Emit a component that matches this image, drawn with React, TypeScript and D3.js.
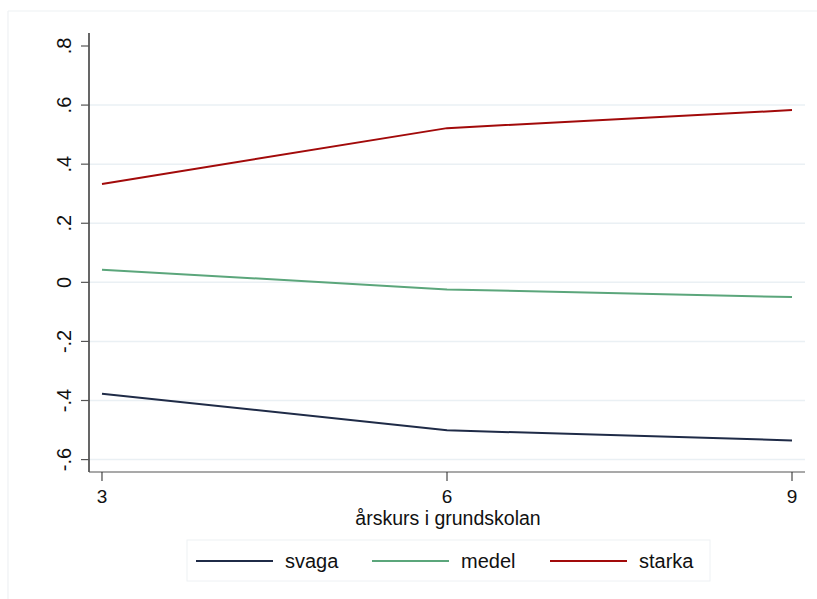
import React from 'react';
import * as d3 from 'd3';

const grades = [3, 6, 9];
const svaga = [-0.377, -0.501, -0.535];
const medel = [0.043, -0.024, -0.05];
const starka = [0.333, 0.522, 0.583];

const yTicks = [0.8, 0.6, 0.4, 0.2, 0, -0.2, -0.4, -0.6];
const yTickLabels = ['.8', '.6', '.4', '.2', '0', '-.2', '-.4', '-.6'];
const gridTicks = [0.6, 0.4, 0.2, 0, -0.2, -0.4, -0.6];

const SERIES = [
  { name: 'svaga', values: svaga, color: '#1f2b47' },
  { name: 'medel', values: medel, color: '#5ba67b' },
  { name: 'starka', values: starka, color: '#a20a0a' },
];

const FONT = "'Liberation Sans', Arial, Helvetica, sans-serif";

const W = 817;
const H = 599;

const App: React.FC = () => {
  // plot region
  const left = 89;
  const right = 805;
  const top = 33;
  const bottom = 472;

  const x = d3.scaleLinear().domain([2.887, 9.113]).range([left, right]);
  const y = d3.scaleLinear().domain([-0.642, 0.844]).range([bottom, top]);

  const line = d3
    .line<number>()
    .x((_, i) => x(grades[i]))
    .y((d) => y(d));

  const legendItems = [
    { x0: 196, tx: 285 },
    { x0: 372, tx: 461 },
    { x0: 550, tx: 639 },
  ];

  return (
    <svg
      width={W}
      height={H}
      style={{ position: 'absolute', left: 0, top: 0, background: '#fff' }}
      fontFamily={FONT}
    >
      {/* outer graph frame */}
      <line x1={8} x2={W} y1={11} y2={11} stroke="#eef1f4" strokeWidth={1.2} />
      <line x1={8} x2={8} y1={11} y2={H} stroke="#eef1f4" strokeWidth={1.2} />

      {/* grid */}
      {gridTicks.map((t) => (
        <line
          key={`g${t}`}
          x1={left}
          x2={right}
          y1={y(t)}
          y2={y(t)}
          stroke="#eaf0f4"
          strokeWidth={1.5}
        />
      ))}

      {/* y axis */}
      <line x1={left} x2={left} y1={top} y2={bottom} stroke="#000" strokeWidth={1.2} />
      {yTicks.map((t, i) => (
        <g key={`y${t}`}>
          <line x1={left - 8} x2={left} y1={y(t)} y2={y(t)} stroke="#555" strokeWidth={1.2} />
          <text
            transform={`translate(71,${y(t)}) rotate(-90)`}
            textAnchor="middle"
            fontSize={20}
            fill="#111"
          >
            {yTickLabels[i]}
          </text>
        </g>
      ))}

      {/* x axis */}
      <line x1={left} x2={right} y1={bottom} y2={bottom} stroke="#555" strokeWidth={1.2} />
      {grades.map((g) => (
        <g key={`x${g}`}>
          <line x1={x(g)} x2={x(g)} y1={bottom} y2={bottom + 9} stroke="#222" strokeWidth={1} />
          <text x={x(g)} y={503} textAnchor="middle" fontSize={19} fill="#111">
            {g}
          </text>
        </g>
      ))}
      <text x={448} y={525} textAnchor="middle" fontSize={19.5} fill="#111">
        årskurs i grundskolan
      </text>

      {/* series */}
      {SERIES.map((s) => (
        <path
          key={s.name}
          d={line(s.values) ?? ''}
          fill="none"
          stroke={s.color}
          strokeWidth={2}
        />
      ))}

      {/* legend */}
      <rect x={187} y={540} width={523} height={41} fill="#fff" stroke="#eef1f4" strokeWidth={1} />
      {SERIES.map((s, i) => (
        <g key={`l${s.name}`}>
          <line
            x1={legendItems[i].x0}
            x2={legendItems[i].x0 + 77}
            y1={561}
            y2={561}
            stroke={s.color}
            strokeWidth={2}
          />
          <text x={legendItems[i].tx} y={568} fontSize={20} fill="#111">
            {s.name}
          </text>
        </g>
      ))}
    </svg>
  );
};

export default App;
